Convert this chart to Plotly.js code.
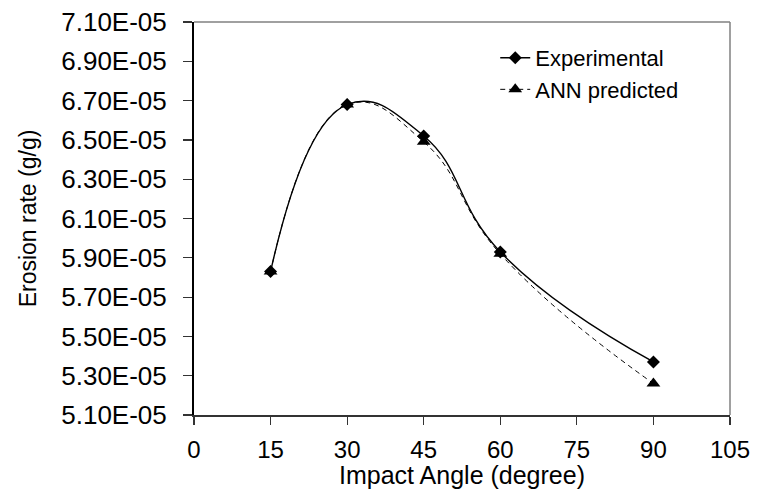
<!DOCTYPE html>
<html>
<head>
<meta charset="utf-8">
<script src="https://cdn.plot.ly/plotly-3.0.1.min.js"></script>
<style>html,body{margin:0;padding:0;background:#fff;}#chart{width:757px;height:489px;}</style>
</head>
<body>
<div id="chart"></div>
<script>
const angles = [15, 30, 45, 60, 90];
const experimental = [5.83e-5, 6.68e-5, 6.52e-5, 5.93e-5, 5.37e-5];
const annPredicted = [5.83e-5, 6.68e-5, 6.49e-5, 5.92e-5, 5.26e-5];
const yTickVals = [5.1e-5, 5.3e-5, 5.5e-5, 5.7e-5, 5.9e-5, 6.1e-5, 6.3e-5, 6.5e-5, 6.7e-5, 6.9e-5, 7.1e-5];
const yTickText = ["5.10E-05","5.30E-05","5.50E-05","5.70E-05","5.90E-05","6.10E-05","6.30E-05","6.50E-05","6.70E-05","6.90E-05","7.10E-05"];
const xTickVals = [0, 15, 30, 45, 60, 75, 90, 105];

const font = 'Liberation Sans, Arial, sans-serif';

const traces = [
  {
    x: angles, y: experimental, name: 'Experimental', type: 'scatter', mode: 'lines+markers',
    line: {color: '#000', width: 1.4, shape: 'spline', smoothing: 1.3},
    marker: {symbol: 'diamond', size: 10, color: '#000'}
  },
  {
    x: angles, y: annPredicted, name: 'ANN predicted', type: 'scatter', mode: 'lines+markers',
    line: {color: '#000', width: 1, dash: '5px,4px', shape: 'spline', smoothing: 1.3},
    marker: {symbol: 'triangle-up', size: 12, color: '#000'}
  }
];

const layout = {
  width: 757, height: 489,
  margin: {l: 194, r: 27, t: 22, b: 74},
  paper_bgcolor: '#fff', plot_bgcolor: '#fff',
  font: {family: font, color: '#000', size: 22},
  showlegend: true,
  legend: {x: 0.562, y: 0.962, xanchor: 'left', yanchor: 'top', bgcolor: 'rgba(0,0,0,0)',
           font: {family: font, size: 22, color: '#000'}, tracegroupgap: 0},
  xaxis: {
    range: [0, 105], tickvals: xTickVals, ticks: 'outside', ticklen: 8, tickcolor: '#333', tickwidth: 1.2,
    ticklabelstandoff: 5,
    showgrid: false, zeroline: false, showline: true, linecolor: '#333', linewidth: 1.5,
    tickfont: {family: font, size: 24, color: '#000'},
    title: {text: 'Impact Angle (degree)', font: {family: font, size: 25, color: '#000'}, standoff: 4}
  },
  yaxis: {
    range: [5.1e-5, 7.1e-5], tickvals: yTickVals, ticktext: yTickText, ticks: 'outside', ticklen: 9,
    tickcolor: '#333', tickwidth: 1.2, ticklabelstandoff: 11,
    showgrid: false, zeroline: false, showline: true, linecolor: '#000', linewidth: 2,
    tickfont: {family: font, size: 26, color: '#000'},
    title: {text: 'Erosion rate (g/g)', font: {family: font, size: 23, color: '#000'}, standoff: 18}
  },
  shapes: [
    {type: 'line', xref: 'paper', yref: 'paper', x0: 0, x1: 1, y0: 1, y1: 1, line: {color: '#808080', width: 1.5}},
    {type: 'line', xref: 'paper', yref: 'paper', x0: 1, x1: 1, y0: 0, y1: 1, line: {color: '#808080', width: 1.5}}
  ]
};

Plotly.newPlot('chart', traces, layout, {displayModeBar: false, staticPlot: true});
</script>
</body>
</html>
